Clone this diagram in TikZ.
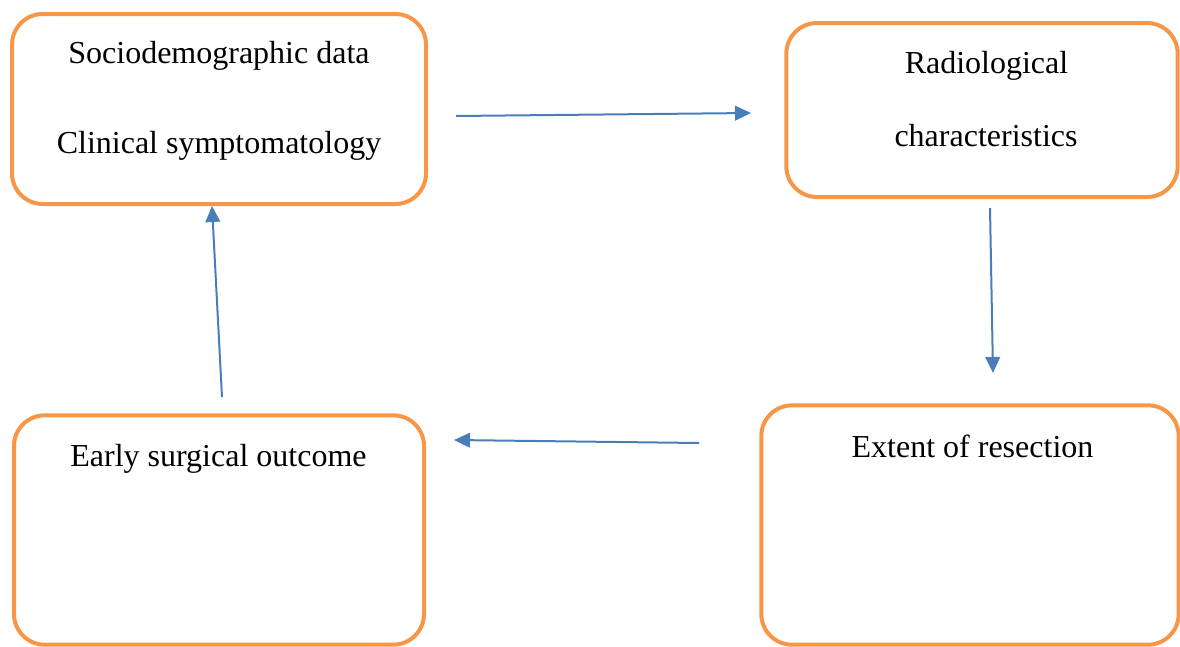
\documentclass[tikz,border=0pt]{standalone}
\usepackage{fontspec}
\setmainfont{Liberation Serif}
\usetikzlibrary{arrows.meta}
\definecolor{boxorange}{HTML}{F79646}
\definecolor{linkblue}{HTML}{4A7EBB}
\tikzset{
	box/.style 2 args={draw=boxorange,line width=3pt,rounded corners=23pt,minimum width=#1,minimum height=#2,inner sep=0pt},
	txt/.style={anchor=base,inner sep=0pt,font=\fontsize{24pt}{28pt}\selectfont},
	link/.style={draw=linkblue,line width=1.5pt,-{Triangle[length=12pt,width=11pt]}}
}
\begin{document}
\begin{tikzpicture}[x=0.75pt,y=-0.75pt]
						\useasboundingbox (0,0) rectangle (1180,646);

						\node [box={310.5pt}{142.5pt}] (socio) at (219,109) {};
						\node [box={293.5pt}{130.5pt}] (radio) at (982,110) {};
						\node [box={307.5pt}{172pt}] (early) at (219,530) {};
						\node [box={313pt}{179.5pt}] (extent) at (970,525) {};

						\node [txt] (sociotxt) at (219,63) {Sociodemographic data};
						\node [txt] (clintxt) at (219,153) {Clinical symptomatology};
						\node [txt] (radiotxt) at (986.5,73) {Radiological};
						\node [txt] (chartxt) at (986,146) {characteristics};
						\node [txt] (earlytxt) at (218.5,466) {Early surgical outcome};
						\node [txt] (extenttxt) at (972.5,457) {Extent of resection};

						\coordinate (a) at (456,116);
						\coordinate (b) at (751,113);
						\coordinate (c) at (990,208);
						\coordinate (d) at (993,373);
						\coordinate (e) at (699,443);
						\coordinate (f) at (454,440);
						\coordinate (g) at (222,397);

						\draw [link] (a) -- (b);
						\draw [link] (c) -- (d);
						\draw [link] (e) -- (f);
						\draw [link] (g) -- (socio.south -| 212,0);
					\end{tikzpicture}
\end{document}
